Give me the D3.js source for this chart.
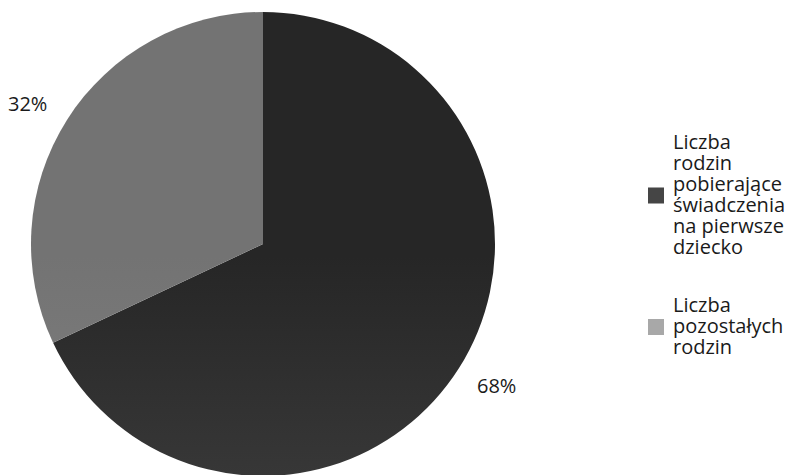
<!DOCTYPE html>
<html>
<head>
<meta charset="utf-8">
<script src="https://cdn.jsdelivr.net/npm/d3@7"></script>
<style>
  body { margin: 0; background: #fff; }
  text { font-family: "Open Sans", sans-serif; fill: #1a1a1a; }
</style>
</head>
<body>
<div id="chart"></div>
<script>
'use strict';

// dane
const categories = [
  'Liczba rodzin pobierające świadczenia na pierwsze dziecko',
  'Liczba pozostałych rodzin'
];
const values = [68, 32];
const pctLabels = ['68%', '32%'];
const legendLines = [
  ['Liczba', 'rodzin', 'pobierające', 'świadczenia', 'na pierwsze', 'dziecko'],
  ['Liczba', 'pozostałych', 'rodzin']
];

function drawChart(elementID, width, height) {
  const svg = d3.select('#' + elementID)
    .append('svg')
    .attr('width', width)
    .attr('height', height);

  const cx = 263, cy = 244, radius = 232;

  // gradienty - skan jest jaśniejszy na dole
  const defs = svg.append('defs');
  const grads = [
    { id: 'gDark', top: '#262626', bottom: '#4a4a4a' },
    { id: 'gLight', top: '#737373', bottom: '#8c8c8c' }
  ];
  grads.forEach(g => {
    const lg = defs.append('linearGradient')
      .attr('id', g.id)
      .attr('gradientUnits', 'userSpaceOnUse')
      .attr('x1', 0).attr('y1', cy - radius)
      .attr('x2', 0).attr('y2', cy + radius);
    lg.append('stop').attr('offset', '0%').attr('stop-color', g.top);
    lg.append('stop').attr('offset', '100%').attr('stop-color', g.bottom);
  });

  const color = d3.scaleOrdinal()
    .domain(categories)
    .range(['url(#gDark)', 'url(#gLight)']);
  const swatch = d3.scaleOrdinal()
    .domain(categories)
    .range(['#454545', '#a8a8a8']);

  const pie = d3.pie().sort(null).value(d => d.value);
  const arc = d3.arc().innerRadius(0).outerRadius(radius);

  const data = categories.map((c, i) => ({ name: c, value: values[i] }));

  const g = svg.append('g')
    .attr('transform', `translate(${cx},${cy})`);

  g.selectAll('.slice')
    .data(pie(data))
    .enter()
    .append('path')
    .attr('class', 'slice')
    .attr('d', arc)
    .attr('fill', d => color(d.data.name));

  // etykiety procentowe poza kołem
  const labelPos = [
    { x: 477, y: 393 },
    { x: 8, y: 111 }
  ];
  svg.selectAll('.pct')
    .data(pctLabels)
    .enter()
    .append('text')
    .attr('class', 'pct')
    .attr('x', (d, i) => labelPos[i].x)
    .attr('y', (d, i) => labelPos[i].y)
    .style('font-size', '20px')
    .text(d => d);

  // legenda
  const lineH = 21;
  const firstBase = [149, 312];
  const legend = svg.selectAll('.legend')
    .data(categories)
    .enter()
    .append('g')
    .attr('class', 'legend');

  legend.append('rect')
    .attr('x', 648)
    .attr('y', (d, i) => {
      const n = legendLines[i].length;
      const mid = firstBase[i] + (n - 1) * lineH / 2 - 6;
      return mid - 8;
    })
    .attr('width', 16)
    .attr('height', 16)
    .attr('fill', d => swatch(d));

  legend.append('text')
    .attr('x', 673)
    .attr('y', (d, i) => firstBase[i])
    .style('font-size', '20px')
    .selectAll('tspan')
    .data((d, i) => legendLines[i])
    .enter()
    .append('tspan')
    .attr('x', 673)
    .attr('dy', (d, j) => j === 0 ? 0 : lineH)
    .text(d => d);
}

drawChart('chart', 795, 475);
</script>
</body>
</html>
